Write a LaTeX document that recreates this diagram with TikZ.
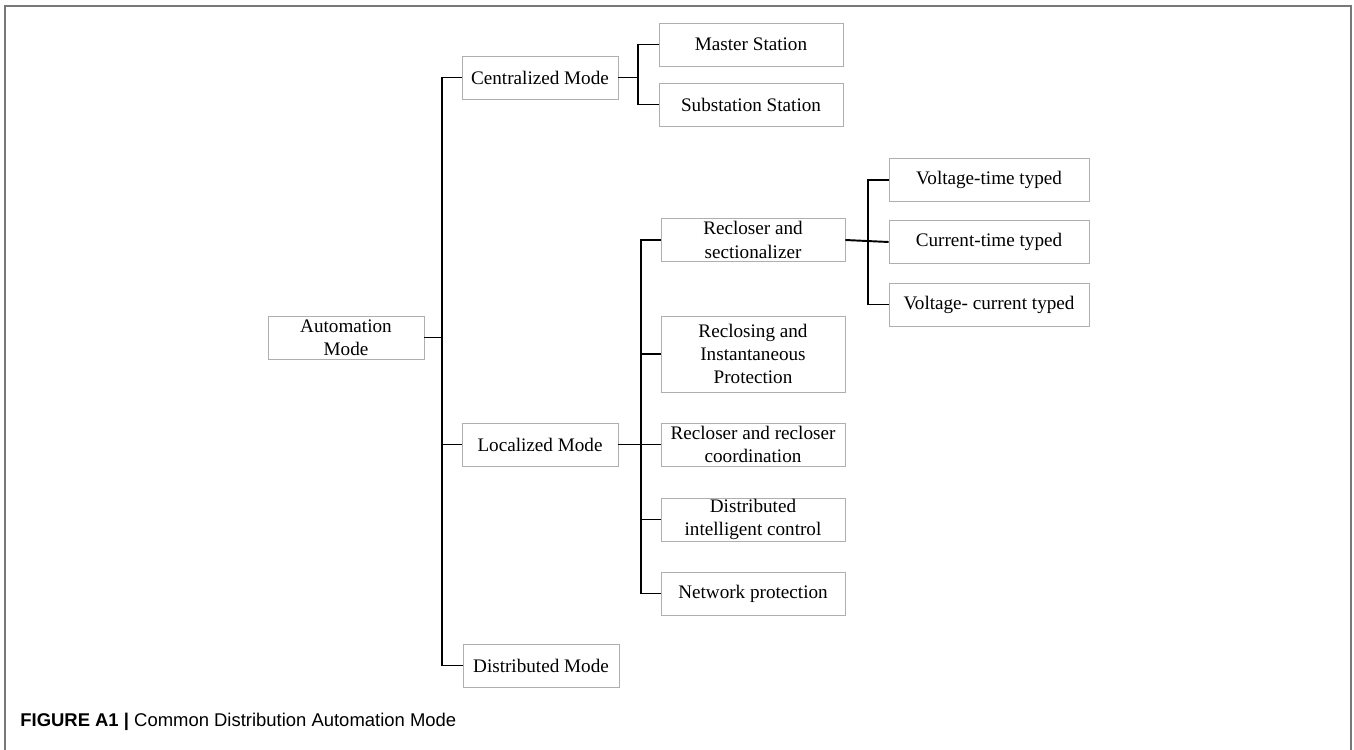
\documentclass[tikz,border=0pt]{standalone}
\usepackage{tikz}
\usepackage{xcolor}
\usepackage{fontspec}
\setmainfont{Liberation Serif}
\newfontfamily\capfont{Liberation Sans}
\definecolor{frameGray}{RGB}{120, 120, 120}
\definecolor{boxGray}{RGB}{175, 175, 175}

\begin{document}
\begin{tikzpicture}
                    \tikzstyle{box} = [draw=boxGray, line width=0.5pt, minimum width=3.68cm, minimum height=0.86cm, inner sep=0pt, align=center, font=\fontsize{10.9}{13.3}\selectfont]
                    \tikzstyle{link} = [black, line width=1.1pt]
                    \useasboundingbox (0,0) rectangle (27.08,-14.98);
                    \draw[frameGray, line width=1pt] (0.10,-15.2) -- (0.10,-0.12) -- (27.02,-0.12) -- (27.02,-15.2);
                    % tree
                    \node[box, minimum width=3.12cm] (auto) at (6.92,-6.75) {Automation\\Mode};
                    \node[box, minimum width=3.12cm] (cent) at (10.80,-1.55) {Centralized Mode};
                    \node[box, minimum width=3.12cm] (loc) at (10.80,-8.89) {Localized Mode};
                    \node[box, minimum width=3.12cm] (dist) at (10.82,-13.31) {Distributed Mode};
                    \node[box] (master) at (15.02,-0.89) {Master Station};
                    \node[box] (subst) at (15.02,-2.09) {Substation Station};
                    \node[box] (rs) at (15.06,-4.80) {Recloser and\\sectionalizer};
                    \node[box, minimum height=1.52cm] (rip) at (15.06,-7.08) {Reclosing and\\Instantaneous\\Protection};
                    \node[box] (rrc) at (15.06,-8.89) {Recloser and recloser\\coordination};
                    \node[box] (dic) at (15.06,-10.39) {Distributed\\intelligent control};
                    \node[box] (np) at (15.06,-11.87) {Network protection};
                    \node[box, minimum width=4cm] (vt) at (19.78,-3.60) {Voltage-time typed};
                    \node[box, minimum width=4cm] (ct) at (19.78,-4.84) {Current-time typed};
                    \node[box, minimum width=4cm] (vc) at (19.78,-6.09) {Voltage- current typed};
                    \coordinate (tr) at (8.84,0);
                    \coordinate (cb) at (12.76,0);
                    \coordinate (lb) at (12.82,0);
                    \coordinate (rb) at (17.36,0);
                    % connectors
                    \draw[link] (cent.west) -- (cent.west -| tr) -- (dist.west -| tr) -- (dist.west);
                    \draw[link] (auto.east) -- (auto.east -| tr);
                    \draw[link] (loc.west) -- (loc.west -| tr);
                    \draw[link] (cent.east) -- (cent.east -| cb);
                    \draw[link] (master.west) -- (master.west -| cb) -- (subst.west -| cb) -- (subst.west);
                    \draw[link] (loc.east) -- (loc.east -| lb);
                    \draw[link] (rs.west) -- (rs.west -| lb) -- (np.west -| lb) -- (np.west);
                    \foreach \n in {rip,rrc,dic}
                        \draw[link] (\n.west) -- (\n.west -| lb);
                    \draw[link] (rs.east) -- (ct.west);
                    \draw[link] (vt.west) -- (vt.west -| rb) -- (vc.west -| rb) -- (vc.west);
                    % caption
                    \node[anchor=base west, inner sep=0pt, font=\capfont\fontsize{10.5}{12}\selectfont] (cap) at (0.40,-14.52) {\textbf{FIGURE A1 |} Common Distribution Automation Mode};
                \end{tikzpicture}
\end{document}
